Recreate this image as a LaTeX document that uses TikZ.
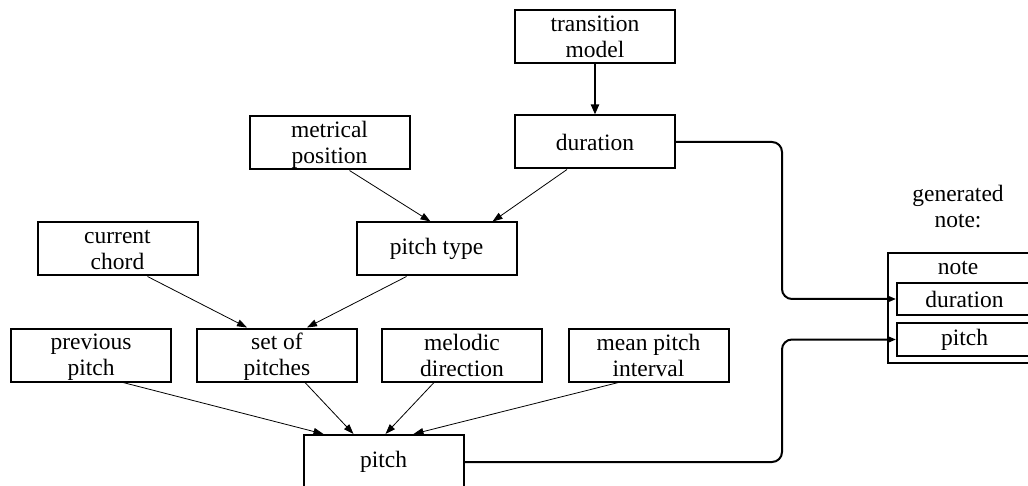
\documentclass[tikz,border=0pt]{standalone}
\usepackage{fontspec}
\setmainfont{Liberation Serif}
\usetikzlibrary{arrows.meta}
\newcommand{\mytopstrut}{\rule{0pt}{21pt}}
\newcommand{\mybotstrut}{\rule[-5pt]{0pt}{5pt}}
\begin{document}
\begin{tikzpicture}[x=1pt,y=-1pt,
  txt/.style={font=\fontsize{23.5}{26}\selectfont,align=center,inner sep=0pt},
  box/.style={txt,draw,line width=2pt,minimum width=160pt,minimum height=53pt},
  inbox/.style={txt,draw,line width=2pt,minimum width=135pt,minimum height=32pt},
  thinarr/.style={line width=0.8pt,-{Triangle[length=10pt,width=7pt]}},
  thickarr/.style={line width=2pt,-{Triangle[length=10pt,width=8pt]}},
  link/.style={line width=2pt,rounded corners=10pt,-{Triangle[length=9pt,width=7pt]}}]
\clip (0,0) rectangle (1028,486);
\fill[white] (0,0) rectangle (1028,486);
% boxes
\node[box] (trans) at (595,37) {\mytopstrut transition\\\mybotstrut model};
\node[box] (dur) at (595,142) {duration};
\node[box] (metr) at (329.5,143) {\mytopstrut metrical\\\mybotstrut position};
\node[box] (ptype) at (436.5,249) {pitch type};
\node[box] (chord) at (117.5,249) {\mytopstrut current\\\mybotstrut chord};
\node[box] (prev) at (91,355) {\mytopstrut previous\\\mybotstrut pitch};
\node[box] (set) at (277,355) {\mytopstrut set of\\\mybotstrut pitches};
\node[box] (melo) at (462,355) {\mytopstrut melodic\\\mybotstrut direction};
\node[box] (mean) at (648.5,355) {\mytopstrut mean pitch\\\mybotstrut interval};
\node[box,minimum height=54pt] (pitch) at (383.5,462) {pitch};
% note structure
\node[draw,line width=2pt,minimum width=152pt,minimum height=110pt,inner sep=0pt] (nbox) at (964,308) {};
\node[txt] (nlbl) at (958,268) {note};
\node[inbox] (nd) at (964.5,299) {duration};
\node[inbox,minimum height=33pt] (np) at (964.5,339.5) {pitch};
\node[txt] (gen) at (958,207) {\mytopstrut generated\\\mybotstrut note:};
\coordinate (vx) at (782,0);
% arrows
\draw[thickarr] (trans.south) -- (dur.north);
\draw[thinarr] ([xshift=20pt]metr.south) -- ([xshift=-6pt]ptype.north);
\draw[thinarr] ([xshift=-28pt]dur.south) -- ([xshift=56pt]ptype.north);
\draw[thinarr] ([xshift=30pt]chord.south) -- ([xshift=-30pt]set.north);
\draw[thinarr] ([xshift=-30pt]ptype.south) -- ([xshift=30pt]set.north);
\draw[thinarr] ([xshift=32pt]prev.south) -- ([xshift=-60pt]pitch.north);
\draw[thinarr] ([xshift=28pt]set.south) -- ([xshift=-30pt]pitch.north);
\draw[thinarr] ([xshift=-28pt]melo.south) -- ([xshift=2pt]pitch.north);
\draw[thinarr] ([xshift=-30pt]mean.south) -- ([xshift=30pt]pitch.north);
% links to note
\draw[link] (dur.east) -| (vx |- nd.west) -- (nd.west);
\draw[link] (pitch.east) -| (vx |- np.west) -- (np.west);
\end{tikzpicture}
\end{document}
